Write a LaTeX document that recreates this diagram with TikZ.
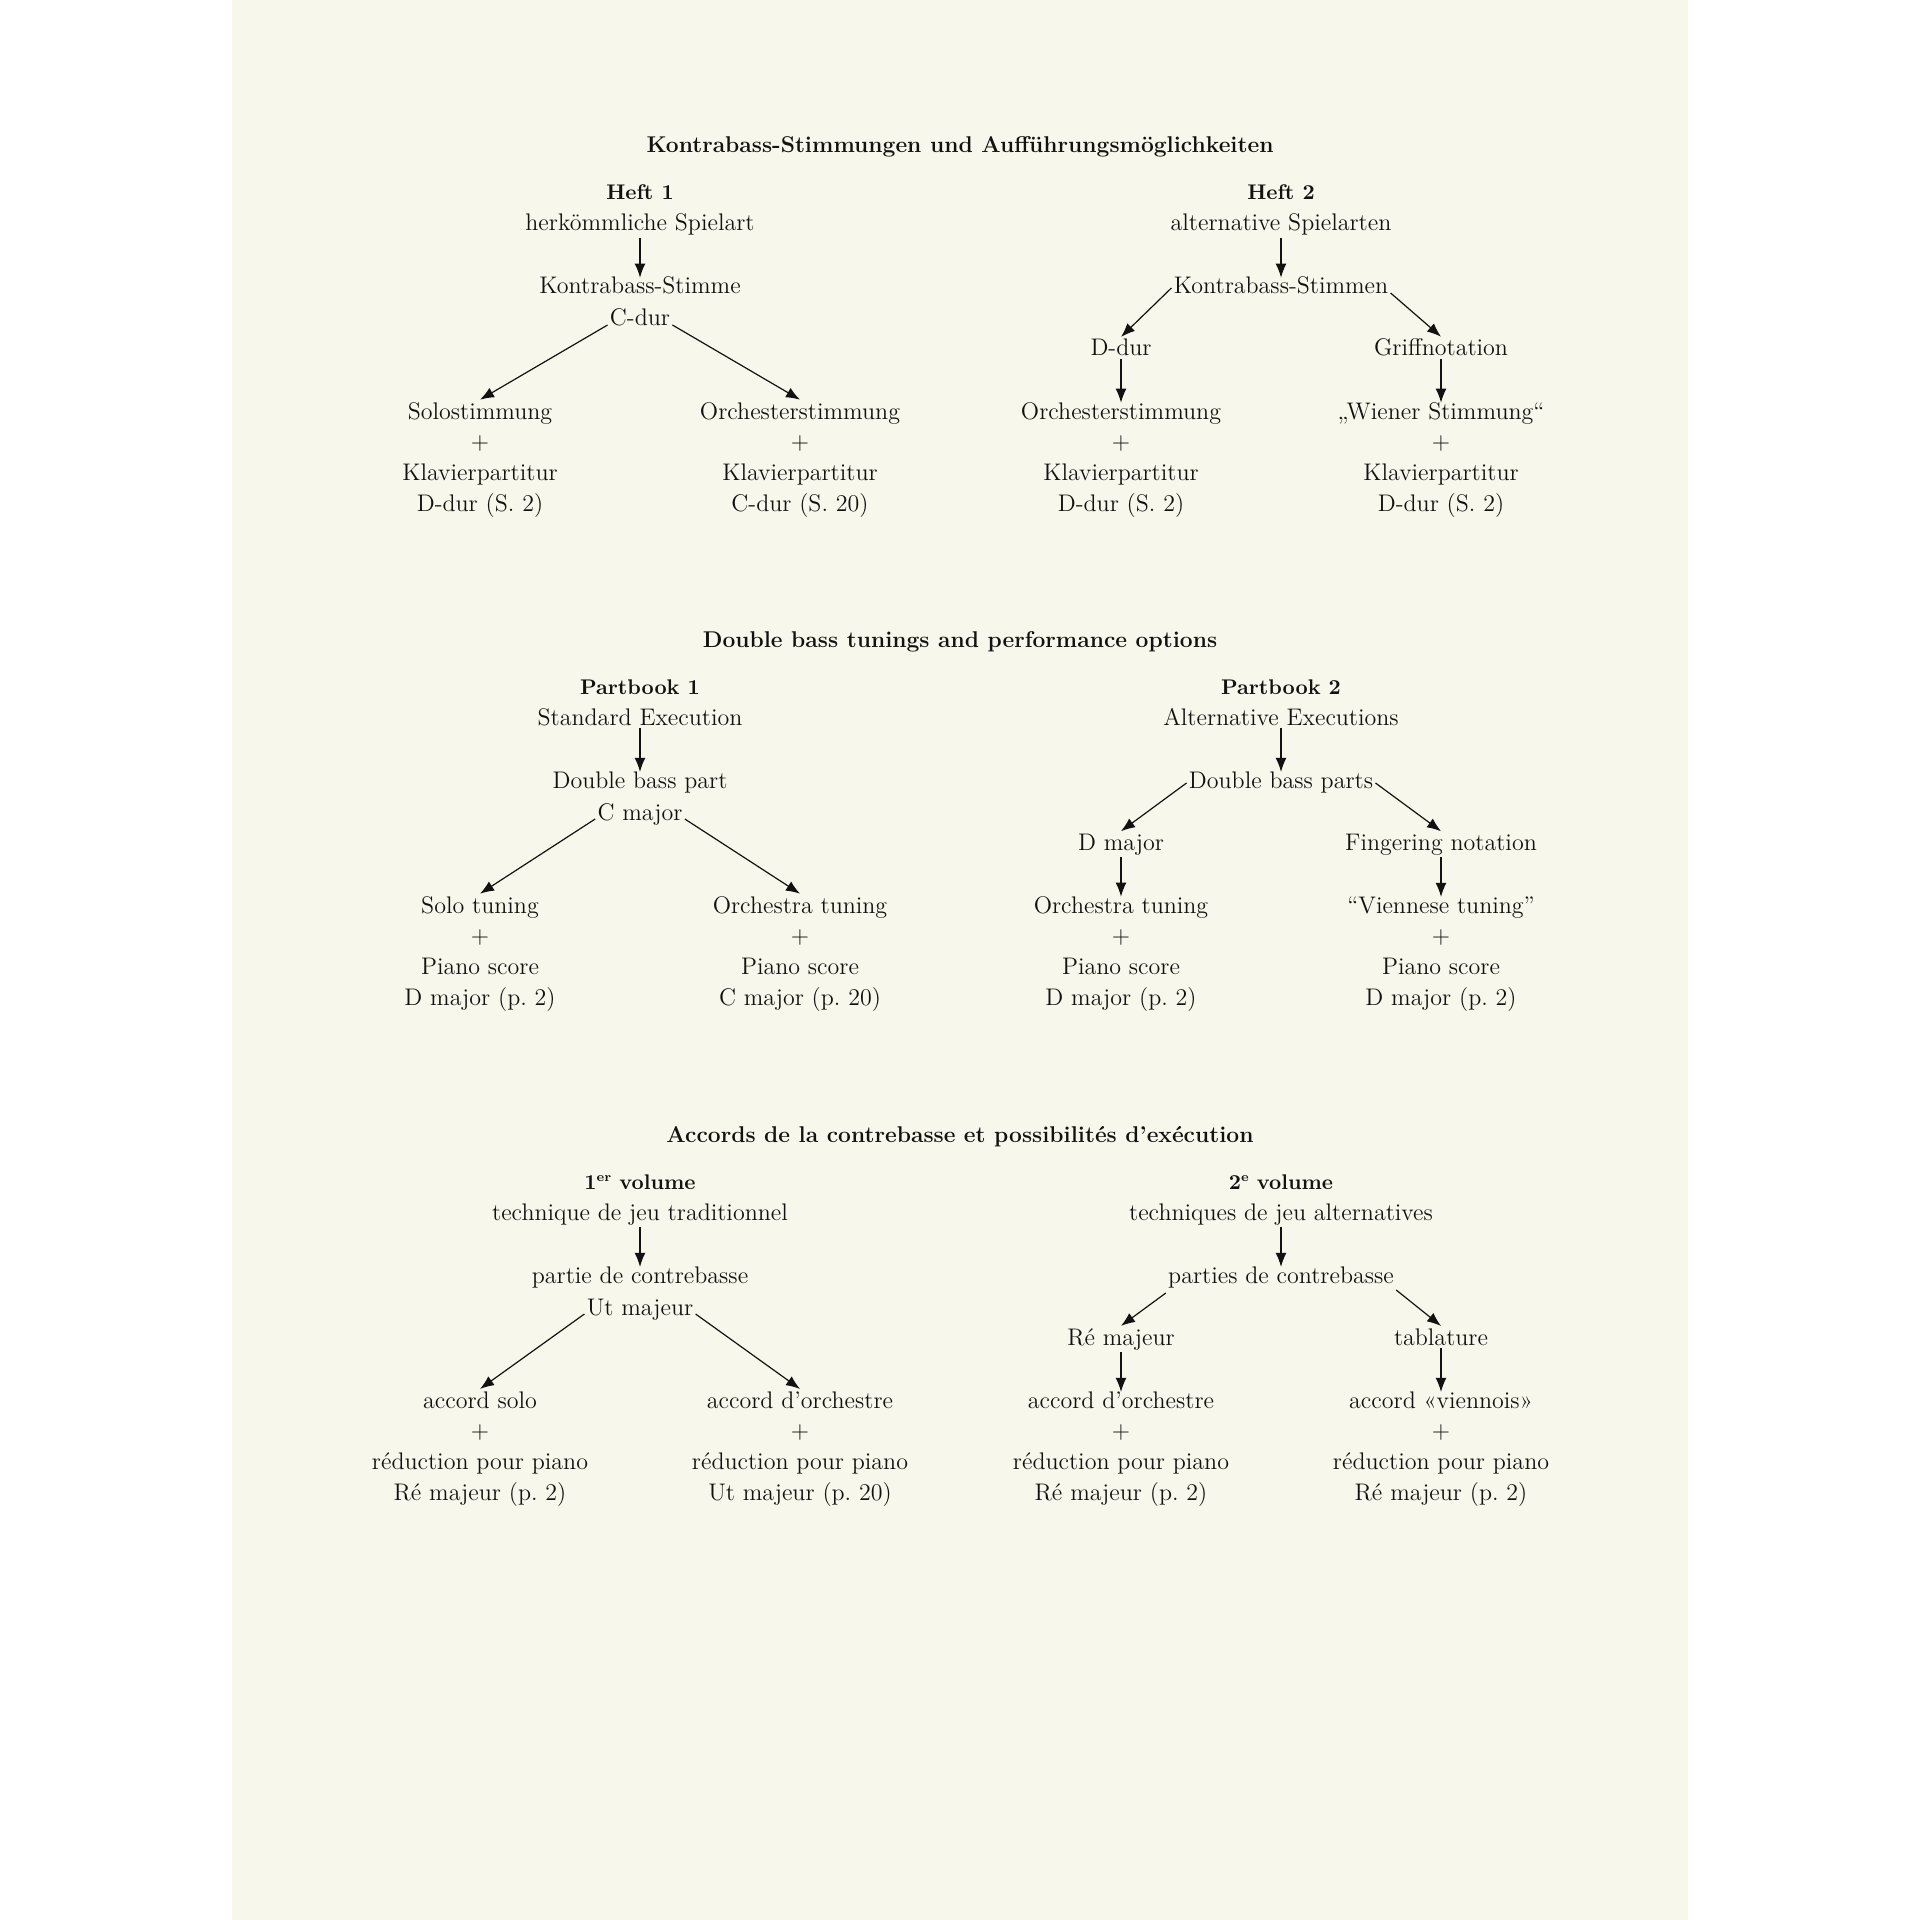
\documentclass[tikz,border=0pt]{standalone}
\usepackage{fontspec}
\usetikzlibrary{arrows.meta}
\definecolor{paper}{RGB}{248,247,236}
\definecolor{ink}{RGB}{18,18,18}
\frenchspacing
\tikzset{
  txt/.style={anchor=base, inner sep=1pt, text=ink, font=\fontsize{12}{14}\selectfont},
  ttl/.style={anchor=base, inner sep=1pt, text=ink, font=\fontsize{11.4}{14}\selectfont\bfseries},
  hd/.style={anchor=base, inner sep=1pt, text=ink, font=\fontsize{10.6}{14}\selectfont\bfseries},
  arr/.style={draw=ink, line width=0.6pt, -{Latex[length=7pt,width=5.4pt]}},
  varr/.style={arr, shorten >=-1.5pt},
}
\newcommand\supr[1]{\raisebox{3.6pt}{\fontsize{6.5}{7}\selectfont #1}}
\newcommand\stk[7]{%
  \node[txt] (#1a) at (#2,#3) {#4};
  \node[txt] (#1b) at (#2,#3+30) {#5};
  \node[txt] (#1c) at (#2,#3+61) {#6};
  \node[txt] (#1d) at (#2,#3+92) {#7};
}
\begin{document}
\begin{tikzpicture}[x=0.5pt,y=-0.5pt]
\fill[white] (0,0) rectangle (1920,1920);
\fill[paper] (232,0) rectangle (1688,1920);
\useasboundingbox (0,0) rectangle (1920,1920);

% ---------------- Section 1 ----------------
\node[ttl] (t1) at (960,153) {Kontrabass-Stimmungen und Aufführungsmöglichkeiten};
\node[hd]  (h11) at (640,200) {Heft 1};
\node[txt] (s11) at (640,231) {herkömmliche Spielart};
\node[txt] (p11) at (640,294) {Kontrabass-Stimme};
\node[txt] (k11) at (640,326) {C-dur};
\stk{la1}{480}{419}{Solostimmung}{+}{Klavierpartitur}{D-dur (S. 2)}
\stk{lb1}{800}{419}{Orchesterstimmung}{+}{Klavierpartitur}{C-dur (S. 20)}
\node[hd]  (h12) at (1281,200) {Heft 2};
\node[txt] (s12) at (1281,231) {alternative Spielarten};
\node[txt] (p12) at (1281,294) {Kontrabass-Stimmen};
\node[txt] (ka1) at (1121,356) {D-dur};
\node[txt] (kb1) at (1441,356) {Griffnotation};
\stk{ra1}{1121}{419}{Orchesterstimmung}{+}{Klavierpartitur}{D-dur (S. 2)}
\stk{rb1}{1441}{419}{„Wiener Stimmung“}{+}{Klavierpartitur}{D-dur (S. 2)}

\draw[varr] (s11.south) -- (p11.north);
\draw[arr] ([yshift=0.5pt]k11.base west) -- (la1a.north);
\draw[arr] ([yshift=0.5pt]k11.base east) -- (lb1a.north);
\draw[varr] (s12.south) -- (p12.north);
\draw[arr] ([yshift=3pt]p12.base west) -- (ka1.north);
\draw[arr] ([yshift=0.5pt]p12.base east) -- (kb1.north);
\draw[varr] (ka1.south) -- (ra1a.north);
\draw[varr] (kb1.south) -- (rb1a.north);

% ---------------- Section 2 ----------------
\node[ttl] (t2) at (960,153+494) {Double bass tunings and performance options};
\node[hd]  (h21) at (640,200+494) {Partbook 1};
\node[txt] (s21) at (640,231+494) {Standard Execution};
\node[txt] (p21) at (640,294+494) {Double bass part};
\node[txt] (k21) at (640,326+494) {C major};
\stk{la2}{480}{419+494}{Solo tuning}{+}{Piano score}{D major (p. 2)}
\stk{lb2}{800}{419+494}{Orchestra tuning}{+}{Piano score}{C major (p. 20)}
\node[hd]  (h22) at (1281,200+494) {Partbook 2};
\node[txt] (s22) at (1281,231+494) {Alternative Executions};
\node[txt] (p22) at (1281,294+494) {Double bass parts};
\node[txt] (ka2) at (1121,356+494) {D major};
\node[txt] (kb2) at (1441,356+494) {Fingering notation};
\stk{ra2}{1121}{419+494}{Orchestra tuning}{+}{Piano score}{D major (p. 2)}
\stk{rb2}{1441}{419+494}{“Viennese tuning”}{+}{Piano score}{D major (p. 2)}

\draw[varr] (s21.south) -- (p21.north);
\draw[arr] ([yshift=0.5pt]k21.base west) -- (la2a.north);
\draw[arr] ([yshift=0.5pt]k21.base east) -- (lb2a.north);
\draw[varr] (s22.south) -- (p22.north);
\draw[arr] ([yshift=2.5pt]p22.base west) -- (ka2.north);
\draw[arr] ([yshift=2.5pt]p22.base east) -- (kb2.north);
\draw[varr] (ka2.south) -- (ra2a.north);
\draw[varr] (kb2.south) -- (rb2a.north);

% ---------------- Section 3 ----------------
\node[ttl] (t3) at (960,153+989) {Accords de la contrebasse et possibilités d’exécution};
\node[hd]  (h31) at (640,200+989) {1\supr{er} volume};
\node[txt] (s31) at (640,231+989) {technique de jeu traditionnel};
\node[txt] (p31) at (640,294+989) {partie de contrebasse};
\node[txt] (k31) at (640,326+989) {Ut majeur};
\stk{la3}{480}{419+989}{accord solo}{+}{réduction pour piano}{Ré majeur (p. 2)}
\stk{lb3}{800}{419+989}{accord d’orchestre}{+}{réduction pour piano}{Ut majeur (p. 20)}
\node[hd]  (h32) at (1281,200+989) {2\supr{e} volume};
\node[txt] (s32) at (1281,231+989) {techniques de jeu alternatives};
\node[txt] (p32) at (1281,294+989) {parties de contrebasse};
\node[txt] (ka3) at (1121,356+989) {Ré majeur};
\node[txt] (kb3) at (1441,356+989) {tablature};
\stk{ra3}{1121}{419+989}{accord d’orchestre}{+}{réduction pour piano}{Ré majeur (p. 2)}
\stk{rb3}{1441}{419+989}{accord «viennois»}{+}{réduction pour piano}{Ré majeur (p. 2)}

\draw[varr] (s31.south) -- (p31.north);
\draw[arr] ([yshift=0.5pt]k31.base west) -- (la3a.north);
\draw[arr] ([yshift=0.5pt]k31.base east) -- (lb3a.north);
\draw[varr] (s32.south) -- (p32.north);
\draw[arr] ([yshift=-5pt]p32.base west) -- (ka3.north);
\draw[arr] ([yshift=-3.5pt]p32.base east) -- (kb3.north);
\draw[varr] (ka3.south) -- (ra3a.north);
\draw[varr] (kb3.south) -- (rb3a.north);
\end{tikzpicture}
\end{document}
